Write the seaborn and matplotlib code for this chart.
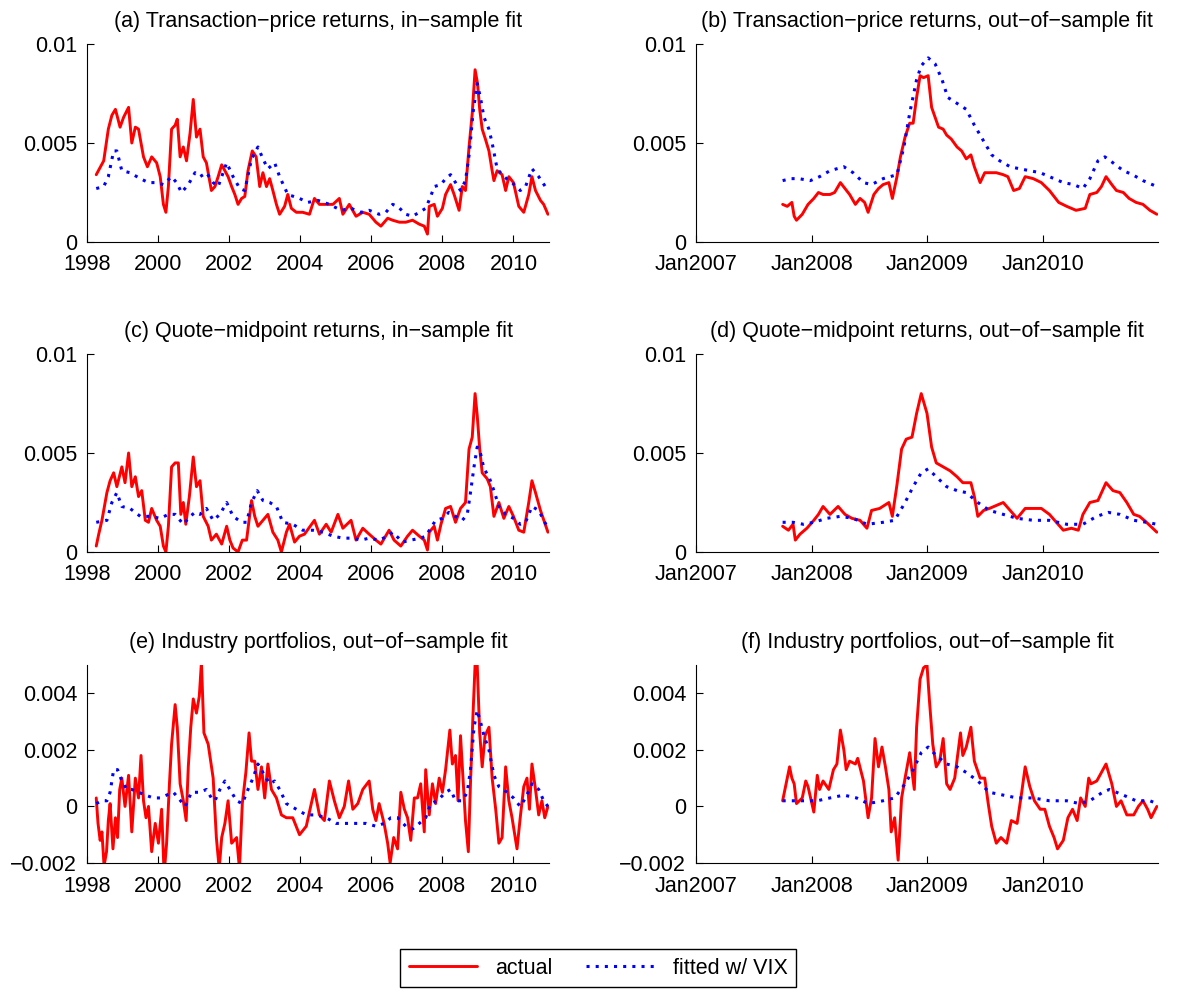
import matplotlib
matplotlib.use('Agg')
import matplotlib.pyplot as plt
import seaborn as sns
import pandas as pd

# ---- data (decimal year, value) ----
a_actual = [(1998.26, 0.0034), (1998.47, 0.0041), (1998.6, 0.0057), (1998.7, 0.0064), (1998.8, 0.0067),
            (1998.93, 0.0058), (1999.03, 0.0063), (1999.17, 0.0068), (1999.26, 0.0050), (1999.36, 0.0058),
            (1999.45, 0.0057), (1999.59, 0.0043), (1999.7, 0.0038), (1999.82, 0.0043), (1999.96, 0.0040),
            (2000.06, 0.0033), (2000.15, 0.0019), (2000.22, 0.0015), (2000.29, 0.0028), (2000.38, 0.0057),
            (2000.48, 0.0059), (2000.54, 0.0062), (2000.62, 0.0043), (2000.71, 0.0048), (2000.8, 0.0041),
            (2000.9, 0.0055), (2000.99, 0.0072), (2001.08, 0.0053), (2001.18, 0.0057), (2001.27, 0.0043),
            (2001.36, 0.0040), (2001.5, 0.0026), (2001.6, 0.0028), (2001.69, 0.0033), (2001.79, 0.0039),
            (2001.88, 0.0036), (2001.97, 0.0033), (2002.07, 0.0028), (2002.16, 0.0024), (2002.25, 0.0019),
            (2002.35, 0.0022), (2002.44, 0.0023), (2002.53, 0.0036), (2002.65, 0.0046), (2002.76, 0.0043),
            (2002.86, 0.0028), (2002.95, 0.0035), (2003.05, 0.0028), (2003.14, 0.0032), (2003.23, 0.0026),
            (2003.33, 0.0019), (2003.42, 0.0014), (2003.56, 0.0018), (2003.65, 0.0024), (2003.75, 0.0017),
            (2003.89, 0.0015), (2004.07, 0.0015), (2004.26, 0.0014), (2004.4, 0.0022), (2004.54, 0.0019),
            (2004.73, 0.0019), (2004.92, 0.0019), (2005.1, 0.0022), (2005.2, 0.0014), (2005.38, 0.0019),
            (2005.57, 0.0013), (2005.76, 0.0015), (2005.94, 0.0014), (2006.13, 0.0010), (2006.27, 0.0008),
            (2006.46, 0.0012), (2006.6, 0.0011), (2006.79, 0.0010), (2006.97, 0.0010), (2007.16, 0.0011),
            (2007.35, 0.0009), (2007.49, 0.0008), (2007.58, 0.0004), (2007.63, 0.0018), (2007.77, 0.0019),
            (2007.86, 0.0013), (2008.0, 0.0017), (2008.09, 0.0024), (2008.23, 0.0029), (2008.33, 0.0024),
            (2008.47, 0.0016), (2008.56, 0.0028), (2008.65, 0.0026), (2008.75, 0.0048), (2008.84, 0.0065),
            (2008.92, 0.0087), (2008.99, 0.0080), (2009.05, 0.0067), (2009.12, 0.0057), (2009.21, 0.0052),
            (2009.31, 0.0046), (2009.4, 0.0036), (2009.45, 0.0031), (2009.54, 0.0036), (2009.68, 0.0034),
            (2009.78, 0.0026), (2009.87, 0.0033), (2010.0, 0.0030), (2010.15, 0.0018), (2010.29, 0.0015),
            (2010.43, 0.0024), (2010.52, 0.0033), (2010.62, 0.0026), (2010.76, 0.0021), (2010.85, 0.0019),
            (2010.97, 0.0014)]
a_fitted = [(1998.26, 0.0027), (1998.47, 0.0028), (1998.6, 0.0033), (1998.75, 0.0046), (1998.84, 0.0046),
            (1998.98, 0.0036), (1999.21, 0.0035), (1999.5, 0.0032), (1999.73, 0.0030), (1999.96, 0.0030),
            (2000.15, 0.0029), (2000.38, 0.0033), (2000.52, 0.0030), (2000.66, 0.0025), (2000.85, 0.0029),
            (2001.04, 0.0035), (2001.18, 0.0033), (2001.36, 0.0035), (2001.55, 0.0030), (2001.69, 0.0028),
            (2001.93, 0.0040), (2002.11, 0.0033), (2002.3, 0.0027), (2002.44, 0.0026), (2002.63, 0.0042),
            (2002.81, 0.0048), (2002.95, 0.0042), (2003.09, 0.0037), (2003.28, 0.0040), (2003.42, 0.0033),
            (2003.65, 0.0024), (2003.98, 0.0022), (2004.21, 0.0020), (2004.5, 0.0021), (2004.82, 0.0019),
            (2005.15, 0.0016), (2005.43, 0.0017), (2005.71, 0.0015), (2005.94, 0.0016), (2006.22, 0.0014),
            (2006.41, 0.0015), (2006.6, 0.0019), (2006.74, 0.0018), (2006.97, 0.0014), (2007.16, 0.0013),
            (2007.35, 0.0015), (2007.53, 0.0017), (2007.67, 0.0023), (2007.77, 0.0028), (2007.96, 0.0029),
            (2008.09, 0.0032), (2008.23, 0.0034), (2008.37, 0.0030), (2008.51, 0.0026), (2008.65, 0.0031),
            (2008.76, 0.0045), (2008.86, 0.0065), (2008.98, 0.0080), (2009.07, 0.0073), (2009.17, 0.0063),
            (2009.31, 0.0057), (2009.4, 0.0050), (2009.54, 0.0037), (2009.73, 0.0033), (2009.96, 0.0030),
            (2010.19, 0.0026), (2010.34, 0.0028), (2010.52, 0.0037), (2010.71, 0.0033), (2010.97, 0.0026)]

b_actual = [(2007.75, 0.0019), (2007.79, 0.0018), (2007.83, 0.0020), (2007.85, 0.0013), (2007.87, 0.0011),
            (2007.92, 0.0014), (2007.97, 0.0019), (2008.02, 0.0022), (2008.06, 0.0025), (2008.1, 0.0024),
            (2008.16, 0.0024), (2008.2, 0.0025), (2008.25, 0.0030), (2008.29, 0.0027), (2008.33, 0.0024),
            (2008.38, 0.0019), (2008.42, 0.0022), (2008.46, 0.0020), (2008.49, 0.0015), (2008.54, 0.0024),
            (2008.58, 0.0027), (2008.62, 0.0029), (2008.67, 0.0030), (2008.7, 0.0022), (2008.74, 0.0033),
            (2008.77, 0.0043), (2008.81, 0.0053), (2008.85, 0.0060), (2008.88, 0.0060), (2008.91, 0.0073),
            (2008.94, 0.0084), (2008.97, 0.0083), (2009.01, 0.0084), (2009.04, 0.0068), (2009.07, 0.0063),
            (2009.1, 0.0058), (2009.14, 0.0057), (2009.17, 0.0054), (2009.21, 0.0052), (2009.26, 0.0048),
            (2009.3, 0.0046), (2009.34, 0.0042), (2009.38, 0.0044), (2009.41, 0.0038), (2009.46, 0.0030),
            (2009.5, 0.0035), (2009.54, 0.0035), (2009.6, 0.0035), (2009.66, 0.0034), (2009.7, 0.0033),
            (2009.75, 0.0026), (2009.8, 0.0027), (2009.85, 0.0033), (2009.92, 0.0032), (2009.99, 0.0030),
            (2010.06, 0.0026), (2010.14, 0.0020), (2010.21, 0.0018), (2010.29, 0.0016), (2010.37, 0.0017),
            (2010.41, 0.0024), (2010.47, 0.0025), (2010.51, 0.0028), (2010.55, 0.0033), (2010.6, 0.0029),
            (2010.64, 0.0026), (2010.7, 0.0025), (2010.75, 0.0022), (2010.81, 0.0020), (2010.87, 0.0019),
            (2010.93, 0.0016), (2010.99, 0.0014)]
b_fitted = [(2007.75, 0.0031), (2007.82, 0.0032), (2007.89, 0.0032), (2007.99, 0.0031), (2008.07, 0.0033),
            (2008.16, 0.0036), (2008.28, 0.0038), (2008.36, 0.0035), (2008.45, 0.0030), (2008.52, 0.0029),
            (2008.62, 0.0032), (2008.74, 0.0034), (2008.8, 0.0048), (2008.85, 0.0065), (2008.91, 0.0082),
            (2008.95, 0.0089), (2009.01, 0.0093), (2009.07, 0.0090), (2009.13, 0.0082), (2009.18, 0.0073),
            (2009.26, 0.0070), (2009.34, 0.0067), (2009.41, 0.0059), (2009.49, 0.0051), (2009.56, 0.0044),
            (2009.63, 0.0041), (2009.72, 0.0038), (2009.8, 0.0037), (2009.89, 0.0036), (2009.98, 0.0035),
            (2010.06, 0.0033), (2010.18, 0.0030), (2010.27, 0.0029), (2010.35, 0.0027), (2010.41, 0.0032),
            (2010.48, 0.0041), (2010.54, 0.0043), (2010.61, 0.0040), (2010.7, 0.0036), (2010.78, 0.0034),
            (2010.87, 0.0031), (2010.99, 0.0028)]

c_actual = [(1998.26, 0.0003), (1998.33, 0.0009), (1998.42, 0.0016), (1998.56, 0.0030), (1998.65, 0.0036),
            (1998.75, 0.0040), (1998.84, 0.0033), (1998.98, 0.0043), (1999.07, 0.0035), (1999.17, 0.0050),
            (1999.26, 0.0033), (1999.36, 0.0038), (1999.45, 0.0028), (1999.54, 0.0031), (1999.64, 0.0016),
            (1999.73, 0.0015), (1999.82, 0.0022), (1999.96, 0.0016), (2000.06, 0.0013), (2000.15, 0.0003),
            (2000.22, 0.0000), (2000.29, 0.0013), (2000.38, 0.0043), (2000.48, 0.0045), (2000.57, 0.0045),
            (2000.64, 0.0019), (2000.71, 0.0025), (2000.78, 0.0014), (2000.88, 0.0028), (2000.99, 0.0048),
            (2001.08, 0.0033), (2001.18, 0.0036), (2001.27, 0.0018), (2001.41, 0.0013), (2001.5, 0.0006),
            (2001.64, 0.0009), (2001.79, 0.0004), (2001.93, 0.0013), (2002.02, 0.0006), (2002.11, 0.0002),
            (2002.25, 0.0000), (2002.37, 0.0006), (2002.49, 0.0006), (2002.63, 0.0026), (2002.72, 0.0018),
            (2002.81, 0.0013), (2002.95, 0.0016), (2003.09, 0.0019), (2003.23, 0.0010), (2003.37, 0.0006),
            (2003.47, 0.0000), (2003.61, 0.0010), (2003.7, 0.0014), (2003.84, 0.0005), (2003.98, 0.0008),
            (2004.12, 0.0009), (2004.4, 0.0016), (2004.54, 0.0009), (2004.73, 0.0014), (2004.87, 0.0010),
            (2005.06, 0.0019), (2005.2, 0.0012), (2005.43, 0.0016), (2005.57, 0.0006), (2005.76, 0.0012),
            (2005.94, 0.0009), (2006.13, 0.0006), (2006.27, 0.0004), (2006.5, 0.0011), (2006.64, 0.0006),
            (2006.83, 0.0003), (2007.02, 0.0008), (2007.16, 0.0011), (2007.35, 0.0008), (2007.49, 0.0006),
            (2007.58, 0.0001), (2007.63, 0.0010), (2007.77, 0.0013), (2007.86, 0.0006), (2007.96, 0.0014),
            (2008.09, 0.0022), (2008.23, 0.0023), (2008.37, 0.0015), (2008.51, 0.0022), (2008.65, 0.0025),
            (2008.75, 0.0052), (2008.84, 0.0058), (2008.92, 0.0080), (2008.98, 0.0069), (2009.05, 0.0052),
            (2009.12, 0.0040), (2009.26, 0.0037), (2009.35, 0.0033), (2009.45, 0.0018), (2009.59, 0.0025),
            (2009.73, 0.0017), (2009.87, 0.0023), (2010.0, 0.0018), (2010.15, 0.0011), (2010.29, 0.0010),
            (2010.43, 0.0025), (2010.52, 0.0036), (2010.62, 0.0030), (2010.76, 0.0021), (2010.97, 0.0010)]
c_fitted = [(1998.26, 0.0015), (1998.56, 0.0016), (1998.7, 0.0025), (1998.84, 0.0030), (1998.98, 0.0023),
            (1999.21, 0.0022), (1999.5, 0.0018), (1999.78, 0.0018), (2000.06, 0.0017), (2000.29, 0.0019),
            (2000.48, 0.0019), (2000.71, 0.0014), (2000.9, 0.0018), (2001.04, 0.0020), (2001.18, 0.0019),
            (2001.36, 0.0022), (2001.55, 0.0016), (2001.74, 0.0019), (2001.93, 0.0025), (2002.11, 0.0018),
            (2002.35, 0.0015), (2002.49, 0.0015), (2002.63, 0.0025), (2002.79, 0.0031), (2002.95, 0.0026),
            (2003.14, 0.0025), (2003.33, 0.0023), (2003.51, 0.0015), (2003.79, 0.0014), (2004.07, 0.0011),
            (2004.35, 0.0011), (2004.64, 0.0010), (2004.92, 0.0008), (2005.2, 0.0007), (2005.48, 0.0007),
            (2005.71, 0.0006), (2005.94, 0.0007), (2006.22, 0.0006), (2006.46, 0.0008), (2006.6, 0.0010),
            (2006.88, 0.0005), (2007.11, 0.0006), (2007.39, 0.0007), (2007.53, 0.0008), (2007.67, 0.0012),
            (2007.81, 0.0016), (2008.0, 0.0017), (2008.18, 0.0020), (2008.37, 0.0018), (2008.56, 0.0016),
            (2008.7, 0.0019), (2008.79, 0.0030), (2008.89, 0.0043), (2008.98, 0.0053), (2009.07, 0.0050),
            (2009.17, 0.0042), (2009.31, 0.0038), (2009.45, 0.0031), (2009.59, 0.0023), (2009.78, 0.0019),
            (2010.0, 0.0017), (2010.19, 0.0014), (2010.34, 0.0015), (2010.52, 0.0023), (2010.71, 0.0021),
            (2010.97, 0.0012)]

d_actual = [(2007.75, 0.0013), (2007.8, 0.0011), (2007.84, 0.0014), (2007.86, 0.0006), (2007.9, 0.0009),
            (2007.96, 0.0012), (2008.02, 0.0016), (2008.06, 0.0019), (2008.1, 0.0023), (2008.16, 0.0019),
            (2008.23, 0.0023), (2008.29, 0.0019), (2008.35, 0.0017), (2008.42, 0.0016), (2008.48, 0.0012),
            (2008.52, 0.0021), (2008.59, 0.0022), (2008.67, 0.0025), (2008.7, 0.0018), (2008.74, 0.0034),
            (2008.78, 0.0052), (2008.82, 0.0057), (2008.87, 0.0058), (2008.91, 0.0070), (2008.95, 0.0080),
            (2009.0, 0.0070), (2009.04, 0.0053), (2009.08, 0.0045), (2009.14, 0.0043), (2009.2, 0.0041),
            (2009.26, 0.0038), (2009.31, 0.0035), (2009.38, 0.0035), (2009.41, 0.0028), (2009.44, 0.0018),
            (2009.49, 0.0021), (2009.54, 0.0022), (2009.62, 0.0024), (2009.66, 0.0025), (2009.72, 0.0021),
            (2009.78, 0.0017), (2009.85, 0.0022), (2009.92, 0.0022), (2009.99, 0.0022), (2010.06, 0.0019),
            (2010.12, 0.0015), (2010.18, 0.0011), (2010.25, 0.0012), (2010.31, 0.0011), (2010.35, 0.0019),
            (2010.41, 0.0025), (2010.48, 0.0026), (2010.55, 0.0035), (2010.61, 0.0031), (2010.67, 0.0030),
            (2010.73, 0.0025), (2010.79, 0.0019), (2010.84, 0.0018), (2010.9, 0.0015), (2010.99, 0.0010)]
d_fitted = [(2007.75, 0.0015), (2007.84, 0.0015), (2007.93, 0.0014), (2008.02, 0.0015), (2008.13, 0.0017),
            (2008.25, 0.0018), (2008.36, 0.0017), (2008.48, 0.0014), (2008.62, 0.0015), (2008.72, 0.0016),
            (2008.81, 0.0025), (2008.88, 0.0033), (2008.95, 0.0040), (2009.01, 0.0042), (2009.08, 0.0038),
            (2009.17, 0.0033), (2009.26, 0.0031), (2009.34, 0.0030), (2009.44, 0.0025), (2009.54, 0.0021),
            (2009.66, 0.0019), (2009.78, 0.0017), (2009.92, 0.0016), (2010.06, 0.0016), (2010.21, 0.0014),
            (2010.35, 0.0014), (2010.47, 0.0018), (2010.57, 0.0020), (2010.67, 0.0019), (2010.79, 0.0016),
            (2010.9, 0.0015), (2010.99, 0.0014)]

e_actual = [(1998.26, 0.0003), (1998.31, -0.0006), (1998.37, -0.0012), (1998.42, -0.0009), (1998.48, -0.0021),
            (1998.55, -0.0016), (1998.6, -0.0005), (1998.65, 0.0001), (1998.73, -0.0015), (1998.8, -0.0004),
            (1998.86, -0.0011), (1998.92, 0.0006), (1998.98, 0.0010), (1999.07, 0.0000), (1999.17, 0.0011),
            (1999.26, -0.0009), (1999.36, 0.0010), (1999.45, 0.0003), (1999.52, 0.0018), (1999.59, 0.0002),
            (1999.66, -0.0004), (1999.73, 0.0000), (1999.82, -0.0016), (1999.92, -0.0006), (2000.01, -0.0013),
            (2000.1, -0.0001), (2000.17, -0.0024), (2000.24, -0.0013), (2000.32, 0.0008), (2000.38, 0.0022),
            (2000.48, 0.0036), (2000.54, 0.0028), (2000.62, 0.0008), (2000.71, 0.0002), (2000.79, -0.0005),
            (2000.85, 0.0014), (2000.92, 0.0028), (2000.99, 0.0038), (2001.08, 0.0033), (2001.16, 0.0039),
            (2001.22, 0.0051), (2001.29, 0.0026), (2001.41, 0.0022), (2001.55, 0.0010), (2001.64, -0.0011),
            (2001.72, -0.0022), (2001.79, -0.0011), (2001.88, -0.0006), (2001.97, 0.0002), (2002.07, -0.0013),
            (2002.21, -0.0011), (2002.29, -0.0022), (2002.37, 0.0001), (2002.47, 0.0012), (2002.56, 0.0026),
            (2002.63, 0.0016), (2002.72, 0.0016), (2002.81, 0.0006), (2002.91, 0.0014), (2003.0, 0.0003),
            (2003.09, 0.0015), (2003.19, 0.0006), (2003.33, 0.0003), (2003.47, -0.0003), (2003.61, -0.0004),
            (2003.79, -0.0004), (2003.98, -0.0010), (2004.17, -0.0007), (2004.4, 0.0006), (2004.54, -0.0003),
            (2004.68, -0.0005), (2004.82, 0.0009), (2004.96, 0.0002), (2005.1, -0.0004), (2005.24, 0.0000),
            (2005.36, 0.0009), (2005.48, -0.0001), (2005.62, 0.0001), (2005.76, 0.0006), (2005.94, 0.0009),
            (2006.04, -0.0001), (2006.13, -0.0005), (2006.22, 0.0001), (2006.36, -0.0006), (2006.46, -0.0013),
            (2006.53, -0.0020), (2006.63, -0.0011), (2006.74, -0.0015), (2006.83, 0.0005), (2006.93, -0.0001),
            (2007.02, -0.0004), (2007.11, -0.0012), (2007.21, 0.0003), (2007.3, 0.0003), (2007.39, 0.0008),
            (2007.49, -0.0009), (2007.53, 0.0013), (2007.63, -0.0003), (2007.72, 0.0008), (2007.81, 0.0001),
            (2007.91, 0.0010), (2008.0, 0.0005), (2008.09, 0.0013), (2008.21, 0.0027), (2008.28, 0.0015),
            (2008.37, 0.0018), (2008.44, 0.0002), (2008.51, 0.0025), (2008.58, 0.0010), (2008.65, -0.0005),
            (2008.73, -0.0016), (2008.79, 0.0008), (2008.86, 0.0032), (2008.92, 0.0050), (2008.98, 0.0050),
            (2009.05, 0.0026), (2009.12, 0.0014), (2009.2, 0.0025), (2009.31, 0.0028), (2009.4, 0.0010),
            (2009.5, -0.0001), (2009.59, -0.0013), (2009.68, -0.0011), (2009.78, 0.0014), (2009.87, 0.0002),
            (2009.96, -0.0004), (2010.1, -0.0015), (2010.19, -0.0004), (2010.29, 0.0007), (2010.38, 0.0010),
            (2010.45, -0.0001), (2010.52, 0.0015), (2010.62, 0.0006), (2010.71, -0.0003), (2010.8, 0.0002),
            (2010.88, -0.0004), (2010.97, 0.0000)]
e_fitted = [(1998.26, 0.0001), (1998.42, 0.0002), (1998.56, 0.0002), (1998.65, 0.0005), (1998.75, 0.0013),
            (1998.86, 0.0013), (1998.98, 0.0009), (1999.12, 0.0006), (1999.26, 0.0006), (1999.45, 0.0005),
            (1999.64, 0.0004), (1999.87, 0.0003), (2000.06, 0.0003), (2000.24, 0.0004), (2000.43, 0.0005),
            (2000.57, 0.0003), (2000.76, 0.0000), (2000.94, 0.0005), (2001.18, 0.0005), (2001.36, 0.0006),
            (2001.5, 0.0003), (2001.6, 0.0002), (2001.74, 0.0006), (2001.88, 0.0009), (2002.02, 0.0006),
            (2002.21, 0.0002), (2002.37, 0.0001), (2002.53, 0.0006), (2002.67, 0.0010), (2002.81, 0.0015),
            (2002.95, 0.0012), (2003.14, 0.0008), (2003.28, 0.0009), (2003.42, 0.0006), (2003.61, 0.0001),
            (2003.89, -0.0001), (2004.17, -0.0003), (2004.46, -0.0003), (2004.73, -0.0004), (2005.01, -0.0006),
            (2005.29, -0.0006), (2005.57, -0.0006), (2005.85, -0.0006), (2006.13, -0.0007), (2006.36, -0.0006),
            (2006.55, -0.0004), (2006.74, -0.0004), (2006.97, -0.0007), (2007.16, -0.0008), (2007.35, -0.0006),
            (2007.53, -0.0004), (2007.67, 0.0001), (2007.86, 0.0002), (2008.09, 0.0005), (2008.23, 0.0006),
            (2008.37, 0.0002), (2008.56, 0.0002), (2008.7, 0.0005), (2008.79, 0.0013), (2008.89, 0.0028),
            (2008.98, 0.0034), (2009.07, 0.0030), (2009.17, 0.0025), (2009.31, 0.0020), (2009.45, 0.0011),
            (2009.59, 0.0007), (2009.82, 0.0005), (2010.0, 0.0003), (2010.19, 0.0000), (2010.34, 0.0003),
            (2010.52, 0.0008), (2010.71, 0.0006), (2010.85, 0.0002), (2010.97, 0.0000)]

f_actual = [(2007.75, 0.0002), (2007.77, 0.0006), (2007.81, 0.0014), (2007.83, 0.0010), (2007.85, 0.0008),
            (2007.87, 0.0001), (2007.92, 0.0003), (2007.95, 0.0009), (2007.97, 0.0007), (2008.02, -0.0002),
            (2008.05, 0.0011), (2008.07, 0.0006), (2008.1, 0.0009), (2008.15, 0.0006), (2008.19, 0.0013),
            (2008.22, 0.0015), (2008.25, 0.0027), (2008.28, 0.0020), (2008.3, 0.0013), (2008.33, 0.0016),
            (2008.38, 0.0015), (2008.4, 0.0017), (2008.45, 0.0009), (2008.49, -0.0004), (2008.52, 0.0003),
            (2008.55, 0.0024), (2008.58, 0.0014), (2008.61, 0.0021), (2008.64, 0.0014), (2008.67, 0.0006),
            (2008.69, -0.0009), (2008.72, -0.0004), (2008.75, -0.0019), (2008.78, 0.0003), (2008.81, 0.0010),
            (2008.85, 0.0019), (2008.89, 0.0006), (2008.91, 0.0028), (2008.94, 0.0045), (2008.97, 0.0049),
            (2009.0, 0.0050), (2009.02, 0.0038), (2009.05, 0.0022), (2009.08, 0.0014), (2009.11, 0.0016),
            (2009.14, 0.0024), (2009.17, 0.0008), (2009.2, 0.0006), (2009.24, 0.0010), (2009.29, 0.0026),
            (2009.31, 0.0018), (2009.34, 0.0021), (2009.38, 0.0028), (2009.41, 0.0016), (2009.46, 0.0010),
            (2009.5, 0.0010), (2009.53, 0.0001), (2009.56, -0.0007), (2009.6, -0.0013), (2009.64, -0.0011),
            (2009.69, -0.0013), (2009.73, -0.0005), (2009.78, -0.0006), (2009.82, 0.0005), (2009.85, 0.0014),
            (2009.89, 0.0007), (2009.93, 0.0002), (2009.98, -0.0001), (2010.02, -0.0001), (2010.06, -0.0007),
            (2010.1, -0.0011), (2010.13, -0.0015), (2010.18, -0.0012), (2010.22, -0.0004), (2010.26, -0.0001),
            (2010.3, -0.0005), (2010.33, 0.0003), (2010.37, 0.0000), (2010.4, 0.0010), (2010.42, 0.0008),
            (2010.47, 0.0009), (2010.51, 0.0012), (2010.55, 0.0015), (2010.6, 0.0008), (2010.64, 0.0000),
            (2010.68, 0.0002), (2010.73, -0.0003), (2010.79, -0.0003), (2010.83, 0.0000), (2010.87, 0.0002),
            (2010.91, -0.0001), (2010.94, -0.0004), (2010.99, 0.0000)]
f_fitted = [(2007.75, 0.0002), (2007.84, 0.0002), (2007.96, 0.0002), (2008.05, 0.0002), (2008.16, 0.0003),
            (2008.28, 0.0004), (2008.39, 0.0003), (2008.49, 0.0001), (2008.62, 0.0002), (2008.72, 0.0003),
            (2008.81, 0.0008), (2008.88, 0.0013), (2008.95, 0.0019), (2009.01, 0.0021), (2009.08, 0.0018),
            (2009.17, 0.0015), (2009.26, 0.0014), (2009.34, 0.0012), (2009.44, 0.0009), (2009.54, 0.0005),
            (2009.66, 0.0004), (2009.78, 0.0003), (2009.92, 0.0003), (2010.06, 0.0002), (2010.21, 0.0002),
            (2010.32, 0.0001), (2010.41, 0.0002), (2010.52, 0.0005), (2010.58, 0.0006), (2010.7, 0.0004),
            (2010.81, 0.0002), (2010.93, 0.0002), (2010.99, 0.0001)]

titles = ['(a) Transaction\u2212price returns, in\u2212sample fit',
          '(b) Transaction\u2212price returns, out\u2212of\u2212sample fit',
          '(c) Quote\u2212midpoint returns, in\u2212sample fit',
          '(d) Quote\u2212midpoint returns, out\u2212of\u2212sample fit',
          '(e) Industry portfolios, out\u2212of\u2212sample fit',
          '(f) Industry portfolios, out\u2212of\u2212sample fit']

left_years = [1998, 2000, 2002, 2004, 2006, 2008, 2010]
right_years = [2007, 2008, 2009, 2010]
right_labels = ['Jan2007', 'Jan2008', 'Jan2009', 'Jan2010']
top_yticks = [0, 0.005, 0.01]
top_ylabels = ['0', '0.005', '0.01']
bot_yticks = [-0.002, 0, 0.002, 0.004]
bot_ylabels = ['\u22120.002', '0', '0.002', '0.004']

sns.set_style('ticks')
plt.rcParams['font.family'] = ['Liberation Sans', 'DejaVu Sans']
plt.rcParams['font.size'] = 15.5
plt.rcParams['text.color'] = 'black'

fig = plt.figure(figsize=(11.9, 9.9), dpi=100)

lefts = [87 / 1190, 696 / 1190]
bottoms = [1 - 242 / 990, 1 - 552 / 990, 1 - 863 / 990]
w = 462 / 1190
h = 198 / 990

series = [(a_actual, a_fitted), (b_actual, b_fitted),
          (c_actual, c_fitted), (d_actual, d_fitted),
          (e_actual, e_fitted), (f_actual, f_fitted)]

for i, (act, fit) in enumerate(series):
    row, col = divmod(i, 2)
    ax = fig.add_axes([lefts[col], bottoms[row], w, h])
    da = pd.DataFrame(act, columns=['t', 'v'])
    df = pd.DataFrame(fit, columns=['t', 'v'])
    sns.lineplot(data=da, x='t', y='v', ax=ax, color='#ff0000', lw=2.1, label='actual')
    sns.lineplot(data=df, x='t', y='v', ax=ax, color='#0000ff', lw=2.2, linestyle=(0, (1, 2)),
                 label='fitted w/ VIX')
    handles, labels = ax.get_legend_handles_labels()
    ax.get_legend().remove()

    if col == 0:
        ax.set_xlim(1998, 2011)
        ax.set_xticks(left_years)
        ax.set_xticklabels([str(y) for y in left_years])
    else:
        ax.set_xlim(2007, 2011)
        ax.set_xticks(right_years)
        ax.set_xticklabels(right_labels)
    if row < 2:
        ax.set_ylim(0, 0.01)
        ax.set_yticks(top_yticks)
        ax.set_yticklabels(top_ylabels)
    else:
        ax.set_ylim(-0.002, 0.005)
        ax.set_yticks(bot_yticks)
        ax.set_yticklabels(bot_ylabels)

    ax.set_xlabel('')
    ax.set_ylabel('')
    ax.set_title(titles[i], fontsize=15.5, pad=12, color='black')
    sns.despine(ax=ax)
    for s in ['left', 'bottom']:
        ax.spines[s].set_color('black')
        ax.spines[s].set_linewidth(0.8)
    ax.tick_params(direction='in', length=5, width=0.8, colors='black', labelsize=15.5)
    ax.tick_params(axis='y', pad=7)
    ax.tick_params(axis='x', pad=9)

fig.legend(handles, labels, loc='center', bbox_to_anchor=(598 / 1190, 1 - 968 / 990), ncol=2,
           frameon=True, fancybox=False, edgecolor='black', fontsize=15.5, handlelength=3.2,
           columnspacing=1.6, borderpad=0.4, framealpha=1)

fig.savefig('out.png', dpi=100)
